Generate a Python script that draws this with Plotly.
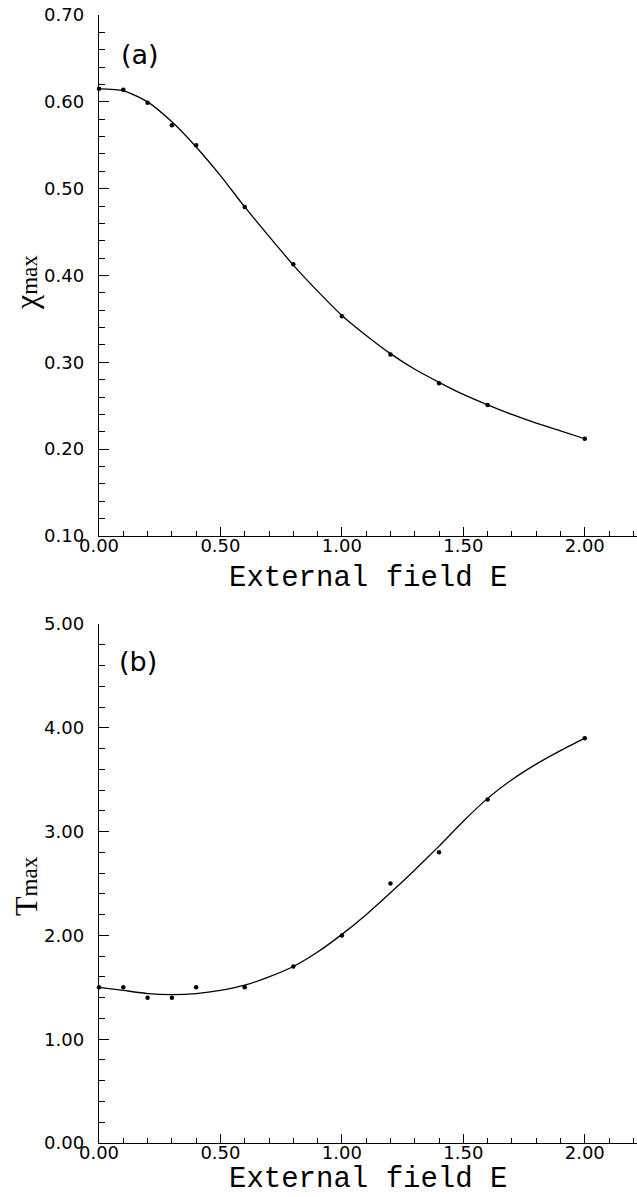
import plotly.graph_objects as go

# ---- data ----
field_pts = [0.0, 0.1, 0.2, 0.3, 0.4, 0.6, 0.8, 1.0, 1.2, 1.4, 1.6, 2.0]
chi_max_pts = [0.615, 0.614, 0.599, 0.573, 0.550, 0.479, 0.413, 0.353, 0.309, 0.276, 0.251, 0.212]
t_max_pts = [1.50, 1.50, 1.40, 1.40, 1.50, 1.50, 1.70, 2.00, 2.50, 2.80, 3.31, 3.90]

# fitted curves
field_curve = [0.0, 0.1, 0.2, 0.3, 0.4, 0.5, 0.6, 0.7, 0.8, 0.9, 1.0, 1.1, 1.2, 1.3, 1.4, 1.5, 1.6, 1.7, 1.8, 1.9, 2.0]
chi_curve = [0.615, 0.613, 0.600, 0.577, 0.548, 0.515, 0.479, 0.445, 0.412, 0.382, 0.354, 0.331, 0.310, 0.292, 0.277, 0.263, 0.251, 0.240, 0.230, 0.221, 0.212]
t_curve = [1.50, 1.47, 1.44, 1.43, 1.44, 1.47, 1.52, 1.60, 1.70, 1.84, 2.01, 2.20, 2.41, 2.63, 2.86, 3.10, 3.32, 3.50, 3.65, 3.78, 3.90]

x_ticks = [0.0, 0.5, 1.0, 1.5, 2.0]
x_ticktext = ["0.00", "0.50", "1.00", "1.50", "2.00"]
ya_ticks = [0.1, 0.2, 0.3, 0.4, 0.5, 0.6, 0.7]
yb_ticks = [0, 1, 2, 3, 4, 5]

W, H = 637, 1197
x_left = 99 / W
ya_dom = [(H - 536) / H, (H - 15) / H]
yb_dom = [(H - 1143) / H, (H - 624) / H]

fig = go.Figure()

line_style = dict(color="black", width=1.3, shape="spline", smoothing=0.6)
mk = dict(color="black", size=4.5, symbol="circle")

fig.add_trace(go.Scatter(x=field_curve, y=chi_curve, mode="lines", line=line_style,
                         xaxis="x", yaxis="y", showlegend=False))
fig.add_trace(go.Scatter(x=field_pts, y=chi_max_pts, mode="markers", marker=mk,
                         xaxis="x", yaxis="y", showlegend=False, cliponaxis=False))
fig.add_trace(go.Scatter(x=field_curve, y=t_curve, mode="lines", line=line_style,
                         xaxis="x2", yaxis="y2", showlegend=False))
fig.add_trace(go.Scatter(x=field_pts, y=t_max_pts, mode="markers", marker=mk,
                         xaxis="x2", yaxis="y2", showlegend=False, cliponaxis=False))

tick_font = dict(family="DejaVu Sans", size=18, color="black")

xaxis_common = dict(
    domain=[x_left, 1.0], range=[0, 2.215], showline=True, linecolor="black", linewidth=1.4,
    ticks="inside", ticklen=9, tickwidth=1.2, tickcolor="black",
    tickvals=x_ticks, ticktext=x_ticktext, tickfont=tick_font,
    minor=dict(dtick=0.1, ticks="inside", ticklen=5, tickwidth=1.1, tickcolor="black", showgrid=False),
    showgrid=False, zeroline=False, mirror=False, ticklabelstandoff=-7, automargin=False,
)

yaxis_common = dict(
    showline=True, linecolor="black", linewidth=1.4,
    ticks="inside", ticklen=10, tickwidth=1.2, tickcolor="black",
    tickformat=".2f", tickfont=tick_font,
    showgrid=False, zeroline=False, ticklabelstandoff=10, automargin=False,
)

fig.update_layout(
    template="none",
    width=W, height=H,
    margin=dict(l=0, r=0, t=0, b=0),
    paper_bgcolor="white", plot_bgcolor="white",
    font=dict(color="black"),
    xaxis=dict(anchor="y", **xaxis_common),
    xaxis2=dict(anchor="y2", **xaxis_common),
    yaxis=dict(
        domain=ya_dom, range=[0.1, 0.7], anchor="x", tickvals=ya_ticks,
        minor=dict(dtick=0.02, ticks="inside", ticklen=6, tickwidth=1.1, tickcolor="black", showgrid=False),
        **yaxis_common,
    ),
    yaxis2=dict(
        domain=yb_dom, range=[0, 5], anchor="x2", tickvals=yb_ticks,
        minor=dict(dtick=0.2, ticks="inside", ticklen=6, tickwidth=1.1, tickcolor="black", showgrid=False),
        **yaxis_common,
    ),
)

title_font = dict(family="Liberation Mono", size=29, color="black")
x_center = (99 + W) / 2 / W
fig.add_annotation(text="External field E", xref="paper", yref="paper", x=x_center,
                   y=(H - 578) / H, showarrow=False, font=title_font, xanchor="center", yanchor="middle")
fig.add_annotation(text="External field E", xref="paper", yref="paper", x=x_center,
                   y=0, showarrow=False, font=title_font, xanchor="center", yanchor="bottom",
                   borderpad=0)

ylab_font = dict(family="Liberation Serif", size=32, color="black")
fig.add_annotation(text="χ<span style='font-size:23px'>max</span>", xref="paper", yref="paper",
                   x=26 / W, y=(H - 282) / H, textangle=-90, showarrow=False, font=ylab_font,
                   xanchor="center", yanchor="middle")
fig.add_annotation(text="T<span style='font-size:23px'>max</span>", xref="paper", yref="paper",
                   x=26 / W, y=(H - 886) / H, textangle=-90, showarrow=False, font=ylab_font,
                   xanchor="center", yanchor="middle")

panel_font = dict(family="DejaVu Sans", size=27, color="black")
fig.add_annotation(text="(a)", xref="x", yref="y", x=0.17, y=0.654, showarrow=False, font=panel_font)
fig.add_annotation(text="(b)", xref="x2", yref="y2", x=0.16, y=4.64, showarrow=False, font=panel_font)

fig.write_html("out.html")
